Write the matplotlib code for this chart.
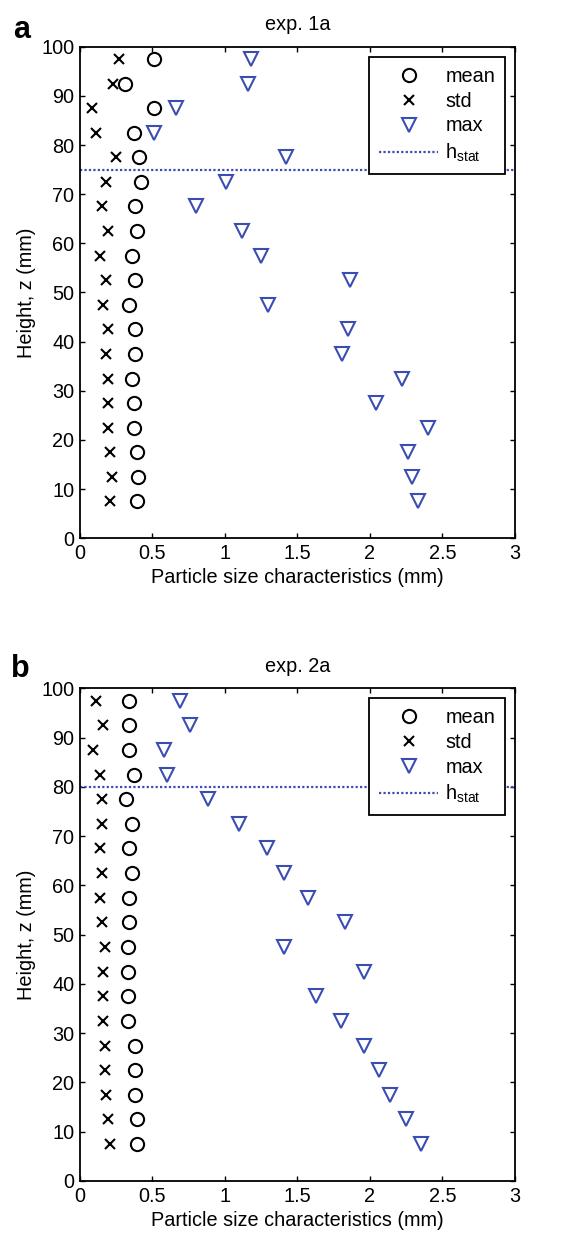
import matplotlib
matplotlib.use("Agg")
import matplotlib.pyplot as plt
import numpy as np

plt.rcParams['font.family'] = ['Liberation Sans', 'DejaVu Sans']
plt.rcParams['mathtext.fontset'] = 'custom'
plt.rcParams['mathtext.rm'] = 'Liberation Sans'

# heights of the measurement layers (mm)
heights = [97.5, 92.5, 87.5, 82.5, 77.5, 72.5, 67.5, 62.5, 57.5, 52.5,
           47.5, 42.5, 37.5, 32.5, 27.5, 22.5, 17.5, 12.5, 7.5]

# exp. 1a
mean_1a = [0.51, 0.31, 0.51, 0.37, 0.41, 0.42, 0.38, 0.39, 0.36, 0.38,
           0.34, 0.38, 0.38, 0.36, 0.37, 0.37, 0.39, 0.40, 0.39]
std_1a = [0.27, 0.23, 0.08, 0.11, 0.25, 0.18, 0.15, 0.19, 0.14, 0.18,
          0.16, 0.19, 0.18, 0.19, 0.19, 0.19, 0.21, 0.22, 0.21]
max_1a = [1.18, 1.16, 0.66, 0.51, 1.42, 1.01, 0.80, 1.12, 1.25, 1.86,
          1.30, 1.85, 1.81, 2.22, 2.04, 2.40, 2.26, 2.29, 2.33]
hstat_1a = 75

# exp. 2a
mean_2a = [0.34, 0.34, 0.34, 0.37, 0.32, 0.36, 0.34, 0.36, 0.34, 0.34,
           0.33, 0.33, 0.33, 0.33, 0.38, 0.38, 0.38, 0.39, 0.39]
std_2a = [0.11, 0.16, 0.09, 0.14, 0.15, 0.15, 0.14, 0.15, 0.14, 0.15,
          0.17, 0.16, 0.16, 0.16, 0.17, 0.17, 0.18, 0.19, 0.21]
max_2a = [0.69, 0.76, 0.58, 0.60, 0.88, 1.10, 1.29, 1.41, 1.57, 1.83,
          1.41, 1.96, 1.63, 1.80, 1.96, 2.06, 2.14, 2.25, 2.35]
hstat_2a = 80

blue = '#3a4db3'
fs = 14.3

fig = plt.figure(figsize=(5.64, 12.36), dpi=100)
ax1 = fig.add_axes([0.1418, 0.5645, 0.7713, 0.3977])
ax2 = fig.add_axes([0.1418, 0.0445, 0.7713, 0.3986])


def panel(ax, mean, std, mx, hstat, title):
    ax.plot(mean, heights, 'o', ms=9.5, mfc='none', mec='black', mew=1.5, label='mean')
    ax.plot(std, heights, 'x', ms=7, mec='black', mew=1.5, label='std')
    ax.plot(mx, heights, 'v', ms=10, mfc='none', mec=blue, mew=1.5, label='max')
    ax.axhline(hstat, color=blue, lw=1.6, ls=(0, (1, 1)), label=r'h$_{\mathregular{stat}}$')
    ax.set_xlim(0, 3)
    ax.set_ylim(0, 100)
    ax.set_xticks(np.arange(0, 3.01, 0.5))
    ax.set_xticklabels(['0', '0.5', '1', '1.5', '2', '2.5', '3'])
    ax.set_yticks(np.arange(0, 101, 10))
    ax.tick_params(direction='in', top=True, right=True, length=3.6, width=1,
                   labelsize=fs, pad=4)
    for s in ax.spines.values():
        s.set_linewidth(1.3)
    ax.set_xlabel('Particle size characteristics (mm)', fontsize=fs, labelpad=4)
    ax.set_ylabel('Height, z (mm)', fontsize=fs, labelpad=4)
    ax.set_title(title, fontsize=fs, pad=12)
    leg = ax.legend(loc='upper right', fontsize=fs, numpoints=1, handlelength=3,
                    handletextpad=0.35, borderpad=0.5, labelspacing=0.3,
                    borderaxespad=0.5, fancybox=False, framealpha=1,
                    edgecolor='black')
    leg.get_frame().set_linewidth(1.3)


panel(ax1, mean_1a, std_1a, max_1a, hstat_1a, 'exp. 1a')
panel(ax2, mean_2a, std_2a, max_2a, hstat_2a, 'exp. 2a')

fig.text(0.039, 0.976, 'a', fontsize=22, fontweight='bold', ha='center', va='center')
fig.text(0.036, 0.459, 'b', fontsize=22, fontweight='bold', ha='center', va='center')

fig.savefig('out.png', dpi=100)
